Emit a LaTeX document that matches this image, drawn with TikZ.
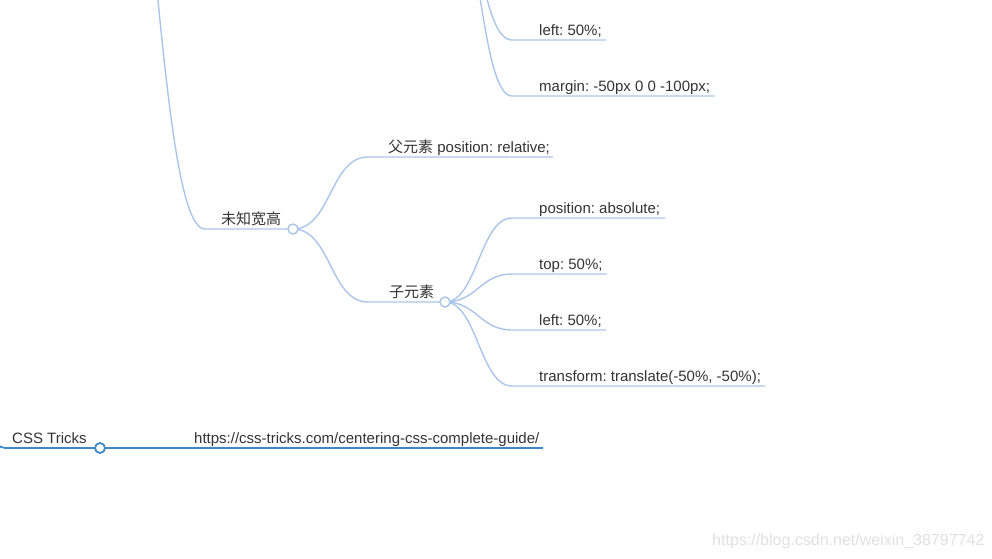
\documentclass[tikz,border=0pt]{standalone}
\usepackage{fontspec}
\setmainfont{Liberation Sans}
\newfontfamily\cjk{Noto Sans CJK SC}
\definecolor{branch}{HTML}{AAC4EA}
\definecolor{linkblue}{HTML}{3F87C9}
\definecolor{txt}{HTML}{333333}
\frenchspacing
\begin{document}
\begin{tikzpicture}[x=1pt,y=-1pt,
    edge/.style={draw=branch,line width=1.4pt},
    link/.style={draw=linkblue,line width=1.8pt},
    knob/.style={circle,draw=branch,fill=white,line width=1.4pt,inner sep=0pt,minimum size=10pt},
    topic/.style={anchor=base west,inner sep=0pt,text=txt,font=\fontsize{15}{18}\selectfont}]
    \clip (0,0) rectangle (992,558);
    % hidden parents above and left of the view
    \coordinate (top) at (100,-300);
    \coordinate (known) at (448,-100);
    \coordinate (root) at (-100,0);
    % knob centres
    \coordinate (wh) at (293,229);
    \coordinate (son) at (445,302);
    \coordinate (css) at (100,448);
    % underline ends
    \coordinate (l1) at (512,40);   \coordinate (r1) at (606,40);
    \coordinate (l2) at (512,96);   \coordinate (r2) at (715,96);
    \coordinate (l3) at (368,157);  \coordinate (r3) at (553,157);
    \coordinate (l4) at (205,229);
    \coordinate (l5) at (512,218);  \coordinate (r5) at (665,218);
    \coordinate (l6) at (512,274);  \coordinate (r6) at (607,274);
    \coordinate (l7) at (512,330);  \coordinate (r7) at (606,330);
    \coordinate (l8) at (512,386);  \coordinate (r8) at (765,386);
    \coordinate (l9) at (368,302);
    \coordinate (l0) at (5,448);    \coordinate (r0) at (543,448);
    % texts
    \node[topic] (left1) at (539,35) {left: 50\%;};
    \node[topic] (margin) at (539,91) {margin: -50px 0 0 -100px;};
    \node[topic] (father) at (388,152) {{\cjk 父元素} position: relative;};
    \node[topic] (unknown) at (221,224) {\cjk 未知宽高};
    \node[topic] (pos) at (539,213) {position: absolute;};
    \node[topic] (top2) at (539,269) {top: 50\%;};
    \node[topic] (left2) at (539,325) {left: 50\%;};
    \node[topic] (trans) at (539,381) {transform: translate(-50\%, -50\%);};
    \node[topic] (child) at (389,297) {\cjk 子元素};
    \node[topic] (tricks) at (12,443) {CSS Tricks};
    \node[topic] (url) at (194,443) {https://css-tricks.com/centering-css-complete-guide/};
    \node[topic,text=black!12,font=\fontsize{16}{19}\selectfont] (mark) at (712,545) {https://blog.csdn.net/weixin\_38797742};
    % branches
    \draw[edge] (known) .. controls +(32,0) and +(-32,0) .. (l1) -- (r1);
    \draw[edge] (known) .. controls +(32,0) and +(-32,0) .. (l2) -- (r2);
    \draw[edge] (top) .. controls +(55,0) and +(-50,0) .. (l4) -- (wh);
    \draw[edge] (wh) .. controls +(38,0) and +(-38,0) .. (l3) -- (r3);
    \draw[edge] (wh) .. controls +(38,0) and +(-38,0) .. (l9) -- (son);
    \foreach \n in {5,6,7,8}
        \draw[edge] (son) .. controls +(32,0) and +(-32,0) .. (l\n) -- (r\n);
    \draw[link] (root) .. controls +(52,0) and +(-52,0) .. (l0) -- (r0);
    % knobs on top
    \node[knob] (whknob) at (wh) {};
    \node[knob] (sonknob) at (son) {};
    \node[knob,draw=linkblue,line width=1.8pt] (cssknob) at (css) {};
\end{tikzpicture}
\end{document}
